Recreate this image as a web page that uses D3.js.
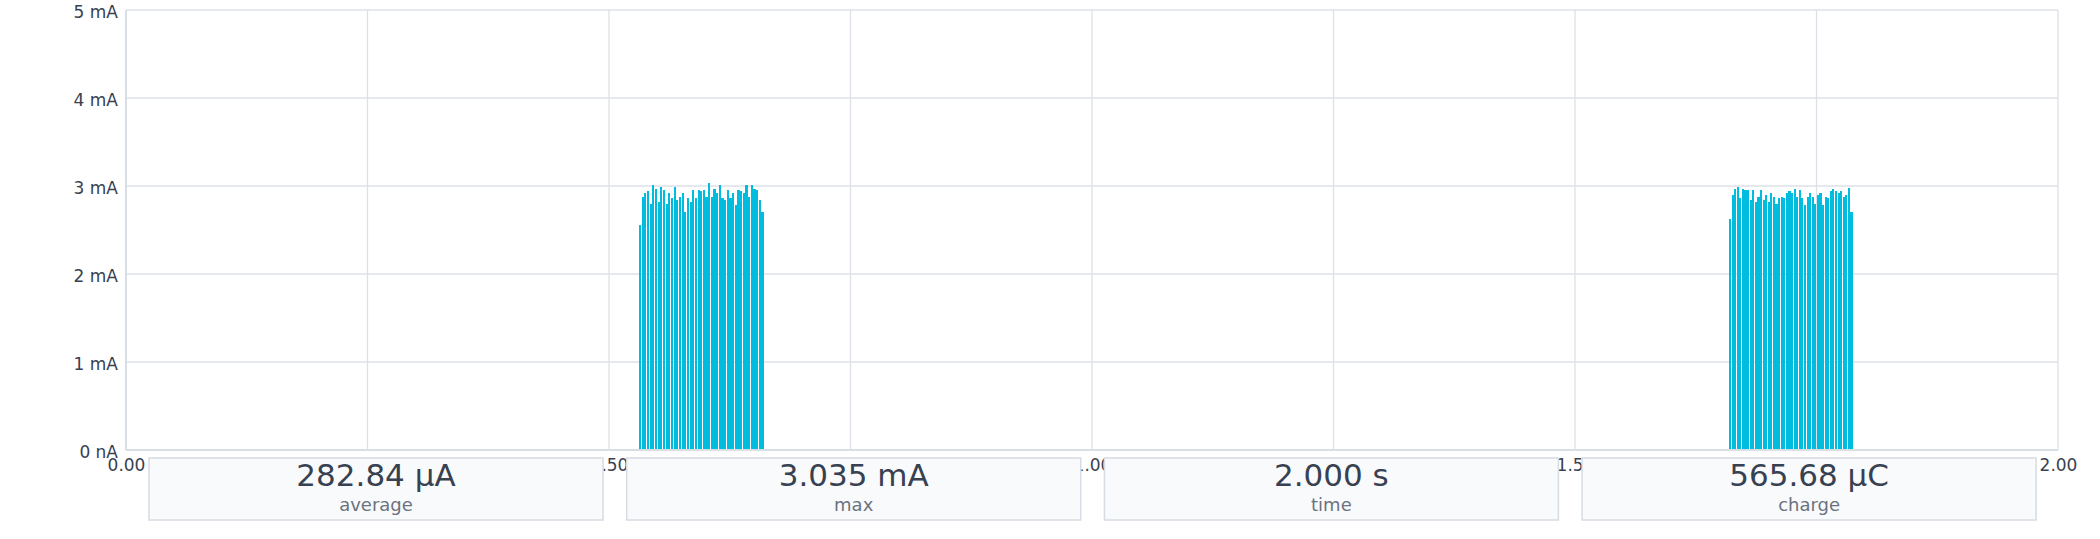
<!DOCTYPE html>
<html>
<head>
<meta charset="utf-8">
<script src="https://cdn.jsdelivr.net/npm/d3@7"></script>
<style>
  body { margin: 0; background: #fff; }
  text { font-family: "DejaVu Sans", sans-serif; }
</style>
</head>
<body>
<script>
// current pulses in mA (one value per pulse)
var burst1 = [2.56, 2.87, 2.92, 2.94, 2.80, 3.01, 2.97, 2.82, 2.99, 2.95, 2.80, 2.92,
    2.86, 2.99, 2.84, 2.88, 2.92, 2.71, 2.86, 2.82, 2.95, 2.86, 2.95, 2.94, 2.95, 2.88,
    3.035, 2.88, 2.97, 2.92, 3.01, 2.86, 2.84, 2.95, 2.86, 2.92, 2.78, 2.95, 2.94, 2.92,
    3.01, 2.88, 3.01, 2.97, 2.95, 2.84, 2.71]
var burst2 = [2.63, 2.90, 2.97, 2.99, 2.86, 2.97, 2.96, 2.95, 2.84, 2.95, 2.82, 2.88,
    2.95, 2.84, 2.90, 2.82, 2.92, 2.88, 2.80, 2.86, 2.88, 2.86, 2.92, 2.94, 2.92, 2.97,
    2.88, 2.95, 2.86, 2.78, 2.88, 2.92, 2.88, 2.80, 2.90, 2.92, 2.78, 2.88, 2.86, 2.94,
    2.97, 2.94, 2.92, 2.94, 2.88, 2.90, 2.98, 2.71]
// burst start / end times in seconds
var burstTimes = [[0.531, 0.6605], [1.6594, 1.7878]]

var xGrid = [0.25, 0.5, 0.75, 1, 1.25, 1.5, 1.75, 2]
// labels at the quarter marks are hidden under the stat boxes, so only these show
var xTicks = [0, 0.5, 1, 1.5, 2]
var yTicks = [0, 1, 2, 3, 4, 5]
var yTickLabels = ["0 nA", "1 mA", "2 mA", "3 mA", "4 mA", "5 mA"]

var statValues = ["282.84 µA", "3.035 mA", "2.000 s", "565.68 µC"]
var statLabels = ["average", "max", "time", "charge"]

var margin = { top: 10, right: 42, bottom: 89, left: 126 },
    width = 2100 - margin.left - margin.right,
    height = 539 - margin.top - margin.bottom;

var svgRoot = d3.select("body").append("svg")
    .attr("width", 2100)
    .attr("height", 539)

var svg = svgRoot.append("g")
    .attr("transform", "translate(" + margin.left + "," + margin.top + ")")

var x = d3.scaleLinear().domain([0, 2]).range([0, width])
var y = d3.scaleLinear().domain([0, 5]).range([height, 0])

// grid
svg.append("g").selectAll("line.h")
    .data(yTicks).enter().append("line")
    .attr("x1", 0).attr("x2", width)
    .attr("y1", function (d) { return y(d) }).attr("y2", function (d) { return y(d) })
    .attr("stroke", "#dde1e7").attr("stroke-width", 1.3)
svg.append("g").selectAll("line.v")
    .data(xGrid).enter().append("line")
    .attr("y1", 0).attr("y2", height)
    .attr("x1", function (d) { return x(d) }).attr("x2", function (d) { return x(d) })
    .attr("stroke", "#dde1e7").attr("stroke-width", 1.3)

// pulses
var pulses = []
var bursts = [burst1, burst2]
bursts.forEach(function (vals, b) {
    var t0 = burstTimes[b][0], t1 = burstTimes[b][1]
    var period = (t1 - t0) / vals.length
    vals.forEach(function (v, i) {
        pulses.push({ t: t0 + i * period, w: period * 0.82, value: v })
    })
})

svg.append("g").selectAll("rect")
    .data(pulses).enter().append("rect")
    .attr("x", function (d) { return x(d.t) })
    .attr("width", function (d) { return x(d.w) - x(0) })
    .attr("y", function (d) { return y(d.value) })
    .attr("height", function (d) { return height - y(d.value) })
    .attr("fill", "#00bcdf")
    .attr("shape-rendering", "crispEdges")

// axis lines
svg.append("line").attr("x1", 0).attr("x2", 0).attr("y1", 0).attr("y2", height)
    .attr("stroke", "#d8dee5").attr("stroke-width", 2)
svg.append("line").attr("x1", 0).attr("x2", width).attr("y1", height).attr("y2", height)
    .attr("stroke", "#d8dee5").attr("stroke-width", 2)

// y labels
var yAxis = d3.axisLeft(y).tickValues(yTicks).tickSize(0).tickPadding(8)
    .tickFormat(function (d, i) { return yTickLabels[i] })
var gy = svg.append("g").call(yAxis)
gy.select(".domain").remove()
gy.selectAll("text").attr("font-size", 17).attr("fill", "#394150")
    .attr("font-family", "DejaVu Sans").attr("dy", "0.45em")

// x labels
var xAxis = d3.axisBottom(x).tickValues(xTicks).tickSize(0).tickPadding(9)
    .tickFormat(d3.format(".2f"))
var gx = svg.append("g").attr("transform", "translate(0," + height + ")").call(xAxis)
gx.select(".domain").remove()
gx.selectAll("text").attr("font-size", 17).attr("fill", "#394150")
    .attr("font-family", "DejaVu Sans")

// stat boxes sit over the x labels
var boxW = 454, boxGap = 23.7, boxX = 149, boxY = 458, boxH = 62
var boxes = svgRoot.append("g").selectAll("g")
    .data(statValues).enter().append("g")
    .attr("transform", function (d, i) { return "translate(" + (boxX + i * (boxW + boxGap)) + "," + boxY + ")" })
boxes.append("rect")
    .attr("width", boxW).attr("height", boxH)
    .attr("fill", "#f9fafb").attr("stroke", "#d6dce3").attr("stroke-width", 1.5)
boxes.append("text")
    .attr("x", boxW / 2).attr("y", 27.5)
    .attr("text-anchor", "middle").attr("font-size", 31).attr("fill", "#374151")
    .text(function (d) { return d })
boxes.append("text")
    .attr("x", boxW / 2).attr("y", 53)
    .attr("text-anchor", "middle").attr("font-size", 18).attr("fill", "#6b7280")
    .text(function (d, i) { return statLabels[i] })
</script>
</body>
</html>
